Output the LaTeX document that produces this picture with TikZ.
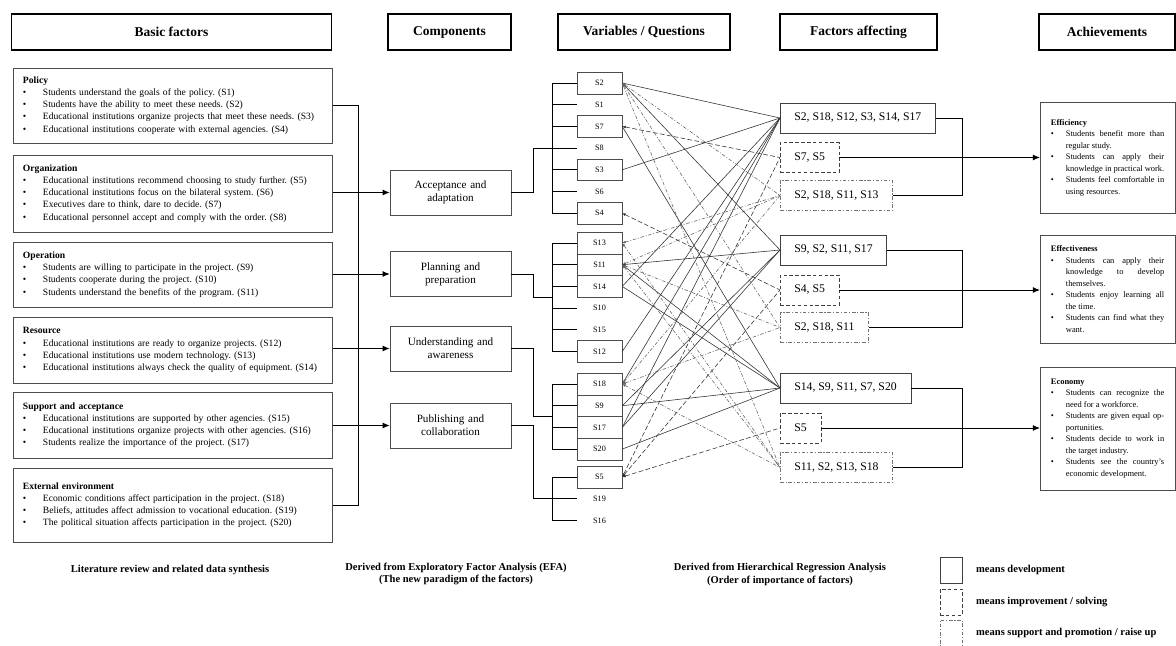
\documentclass[tikz,border=0pt]{standalone}
\usepackage{fontspec}
\setmainfont{Liberation Serif}
\usepackage{enumitem}
\newlist{facts}{itemize}{1}
\setlist[facts]{label=\textbullet, nosep, leftmargin=17pt, labelwidth=5pt, labelsep=12pt, align=left}
\newlist{gains}{itemize}{1}
\setlist[gains]{label=\textbullet, nosep, leftmargin=12.8pt, labelwidth=4pt, labelsep=8.8pt, align=left}
\usetikzlibrary{arrows.meta,calc}
\frenchspacing
\begin{document}
\begin{tikzpicture}[
			x=0.03cm, y=-0.03cm,
			head/.style={draw, line width=1.1pt, minimum height=1.08cm, font=\fontsize{11.5}{14}\selectfont\bfseries},
			basic/.style={draw=black!70, text width=9cm, inner xsep=8pt, align=left, font=\fontsize{8.2}{10.4}\selectfont},
			comp/.style={draw=black!70, minimum width=3.63cm, minimum height=1.35cm, text width=3.3cm, align=center, font=\fontsize{9.5}{11}\selectfont},
			varbox/.style={draw=black!70, minimum width=1.35cm, minimum height=0.65cm, font=\fontsize{7}{8}\selectfont},
			varfree/.style={varbox, draw=none},
			devbox/.style={draw=black!75, anchor=west, minimum height=0.9cm, inner xsep=12pt, font=\fontsize{10}{12}\selectfont},
			impbox/.style={devbox, dash pattern=on 3pt off 2pt},
			supbox/.style={devbox, draw=black!55, dash pattern=on 3pt off 1.5pt on 1pt off 1.5pt},
			gain/.style={draw=black!70, anchor=west, text width=3.4cm, inner xsep=0.32cm, align=justify, font=\fontsize{7.2}{9.8}\selectfont},
			devline/.style={draw=black!80, line width=0.5pt},
			impline/.style={devline, dash pattern=on 4pt off 2pt, arrows={Latex[length=3pt,width=2.4pt]-}},
			supline/.style={devline, draw=black!60, dash pattern=on 3pt off 1.5pt on 0.8pt off 1.5pt, arrows={Latex[length=3pt,width=2.4pt]-}},
			link/.style={line width=0.8pt},
			arr/.style={link, -{Latex[length=6pt,width=5pt]}},
			note/.style={align=center, font=\fontsize{9}{11}\selectfont\bfseries},
			legbox/.style={draw=black!75, minimum width=0.66cm, minimum height=0.78cm},
			legtext/.style={anchor=west, font=\fontsize{9}{11}\selectfont\bfseries}
		]
		\useasboundingbox (0,0) rectangle (1176,646);
		\coordinate (lbus) at (358,0);
		\coordinate (jog) at (533,0);
		\coordinate (vbus) at (552,0);
		\coordinate (fbus) at (962,0);
		\node[head, minimum width=9.6cm] (hbas) at (171.5,32) {Basic factors};
		\node[head, minimum width=3.69cm] (hcom) at (449.5,32) {Components};
		\node[head, minimum width=5.16cm] (hvar) at (644,32) {Variables / Questions};
		\node[head, minimum width=4.71cm] (hfac) at (858.5,32) {Factors affecting};
		\node[head, minimum width=4.08cm] (hach) at (1107,32) {Achievements};
		\node[basic, minimum height=2.25cm] (pol) at (173,105.5) {\textbf{Policy}
			\begin{facts}
				\item Students understand the goals of the policy. (S1)
				\item Students have the ability to meet these needs. (S2)
				\item Educational institutions organize projects that meet these needs. (S3)
				\item Educational institutions cooperate with external agencies. (S4)
			\end{facts}};
		\node[basic, minimum height=2.31cm] (org) at (173,193.5) {\textbf{Organization}
			\begin{facts}
				\item Educational institutions recommend choosing to study further. (S5)
				\item Educational institutions focus on the bilateral system. (S6)
				\item Executives dare to think, dare to decide. (S7)
				\item Educational personnel accept and comply with the order. (S8)
			\end{facts}};
		\node[basic, minimum height=1.95cm] (ope) at (173,274.5) {\textbf{Operation}
			\begin{facts}
				\item Students are willing to participate in the project. (S9)
				\item Students cooperate during the project. (S10)
				\item Students understand the benefits of the program. (S11)
			\end{facts}};
		\node[basic, minimum height=1.98cm] (res) at (173,350) {\textbf{Resource}
			\begin{facts}
				\item Educational institutions are ready to organize projects. (S12)
				\item Educational institutions use modern technology. (S13)
				\item Educational institutions always check the quality of equipment. (S14)
			\end{facts}};
		\node[basic, minimum height=1.98cm] (sup) at (173,425) {\textbf{Support and acceptance}
			\begin{facts}
				\item Educational institutions are supported by other agencies. (S15)
				\item Educational institutions organize projects with other agencies. (S16)
				\item Students realize the importance of the project. (S17)
			\end{facts}};
		\node[basic, minimum height=2.22cm] (ext) at (173,505) {\textbf{External environment}
			\begin{facts}
				\item Economic conditions affect participation in the project. (S18)
				\item Beliefs, attitudes affect admission to vocational education. (S19)
				\item The political situation affects participation in the project. (S20)
			\end{facts}};
		\node[comp] (acc) at (450.5,192.5) {Acceptance and\\adaptation};
		\node[comp] (pla) at (450.5,274) {Planning and\\preparation};
		\node[comp] (und) at (450.5,348.5) {Understanding and\\awareness};
		\node[comp] (pub) at (450.5,425.5) {Publishing and\\collaboration};
		\draw[link] (pol.east) -| (lbus |- ext.east) -- (ext.east);
		\draw[arr] (acc.west -| org.east) -- (acc.west);
		\draw[arr] (pla.west -| ope.east) -- (pla.west);
		\draw[arr] (und.west -| res.east) -- (und.west);
		\draw[arr] (pub.west -| sup.east) -- (pub.west);
		\foreach \n/\s [count=\i from 0] in {2/varbox,1/varfree,7/varbox,8/varfree,3/varbox,6/varfree,4/varbox}
			\node[\s] (s\n) at (599.5,83+21.7*\i) {S\n};
		\foreach \n/\s [count=\i from 0] in {13/varbox,11/varbox,14/varbox,10/varfree,15/varfree,12/varbox}
			\node[\s] (s\n) at (599.5,243+21.7*\i) {S\n};
		\foreach \n/\s [count=\i from 0] in {18/varbox,9/varbox,17/varbox,20/varbox}
			\node[\s] (s\n) at (599.5,384+21.7*\i) {S\n};
		\foreach \n/\s [count=\i from 0] in {5/varbox,19/varfree,16/varfree}
			\node[\s] (s\n) at (599.5,477+21.7*\i) {S\n};
		\foreach \n in {2,1,7,8,3,6,4,13,11,14,10,15,12,18,9,17,20,5,19,16}
			\draw[link] (s\n.west) -- (s\n.west -| vbus);
		\draw[link] (s2.west -| vbus) -- (s4.west -| vbus);
		\draw[link] (s13.west -| vbus) -- (s12.west -| vbus);
		\draw[link] (s18.west -| vbus) -- (s20.west -| vbus);
		\draw[link] (s5.west -| vbus) -- (s16.west -| vbus);
		\draw[link] (acc.east) -- (acc.east -| jog) |- (s8.west -| vbus);
		\draw[link] (pla.east) -- (pla.east -| jog) |- ($(s13.west -| vbus)!.5!(s12.west -| vbus)$);
		\draw[link] (und.east) -- (und.east -| jog) |- ($(s18.west -| vbus)!.5!(s20.west -| vbus)$);
		\draw[link] (pub.east) -- (pub.east -| jog) |- (s19.west -| vbus);
		\node[devbox] (f1) at (780,118) {S2, S18, S12, S3, S14, S17};
		\node[impbox] (f2) at (780,157.5) {S7, S5};
		\node[supbox] (f3) at (780,195.5) {S2, S18, S11, S13};
		\node[devbox] (f4) at (780,250) {S9, S2, S11, S17};
		\node[impbox] (f5) at (780,290) {S4, S5};
		\node[supbox] (f6) at (780,327.5) {S2, S18, S11};
		\node[devbox] (f7) at (780,388) {S14, S9, S11, S7, S20};
		\node[impbox] (f8) at (780,428) {S5};
		\node[supbox] (f9) at (780,467.5) {S11, S2, S13, S18};
		\foreach \n in {2,18,12,3,14,17} \draw[devline] (s\n.east) -- (f1.west);
		\foreach \n in {7,5} \draw[impline] (s\n.east) -- (f2.west);
		\foreach \n in {2,18,11,13} \draw[supline] (s\n.east) -- (f3.west);
		\foreach \n in {9,2,11,17} \draw[devline] (s\n.east) -- (f4.west);
		\foreach \n in {4,5} \draw[impline] (s\n.east) -- (f5.west);
		\foreach \n in {2,18,11} \draw[supline] (s\n.east) -- (f6.west);
		\foreach \n in {14,9,11,7,20} \draw[devline] (s\n.east) -- (f7.west);
		\foreach \n in {5} \draw[impline] (s\n.east) -- (f8.west);
		\foreach \n in {11,2,13,18} \draw[supline] (s\n.east) -- (f9.west);
		\node[gain, minimum height=3.33cm] (eff) at (1040,157.5) {\textbf{Efficiency}
			\begin{gains}
				\item Students benefit more than regular study.
				\item Students can apply their knowledge in practical work.
				\item Students feel comfortable in using resources.
			\end{gains}};
		\node[gain, minimum height=3.24cm] (efc) at (1040,289) {\textbf{Effectiveness}
			\begin{gains}
				\item Students can apply their knowledge to develop themselves.
				\item Students enjoy learning all the time.
				\item Students can find what they want.
			\end{gains}};
		\node[gain, minimum height=3.69cm] (eco) at (1040,428.5) {\textbf{Economy}
			\begin{gains}
				\item Students can recognize the need for a workforce.
				\item Students are given equal opportunities.
				\item Students decide to work in the target industry.
				\item Students see the country's economic development.
			\end{gains}};
		\draw[link] (f1.east) -| (fbus |- f3.east) -- (f3.east);
		\draw[arr] (f2.east) -- (f2.east -| eff.west);
		\draw[link] (f4.east) -| (fbus |- f6.east) -- (f6.east);
		\draw[arr] (f5.east) -- (f5.east -| efc.west);
		\draw[link] (f7.east) -| (fbus |- f9.east) -- (f9.east);
		\draw[arr] (f8.east) -- (f8.east -| eco.west);
		\node[note] (n1) at (170,570) {Literature review and related data synthesis};
		\node[note] (n2) at (456,574) {Derived from Exploratory Factor Analysis (EFA)\\(The new paradigm of the factors)};
		\node[note] (n3) at (780,574) {Derived from Hierarchical Regression Analysis\\(Order of importance of factors)};
		\node[legbox] (k1) at (951,570) {};
		\node[legbox, dash pattern=on 3pt off 2pt] (k2) at (951,602) {};
		\node[legbox, draw=black!55, dash pattern=on 3pt off 1.5pt on 1pt off 1.5pt] (k3) at (951,633) {};
		\node[legtext] (t1) at (972,570) {means development};
		\node[legtext] (t2) at (972,602) {means improvement / solving};
		\node[legtext] (t3) at (972,633) {means support and promotion / raise up};
	\end{tikzpicture}
\end{document}
